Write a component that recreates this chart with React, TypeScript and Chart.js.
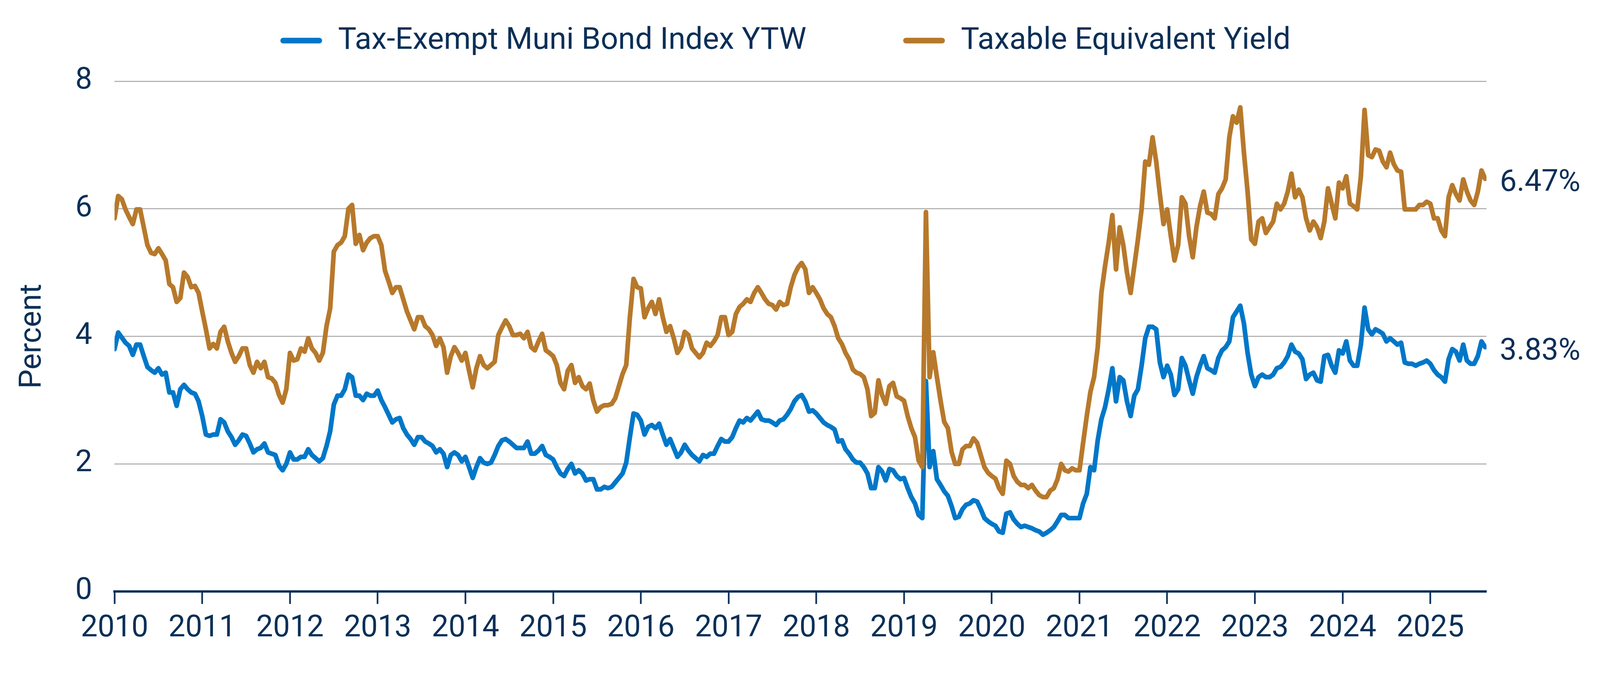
import { useEffect, useRef } from 'react';
import { Chart, registerables } from 'chart.js';

Chart.register(...registerables);

// semi-monthly readings, Jan 2010 .. mid Aug 2025 (one row per year)
const START_YEAR = 2010;
const END_YEAR = 2025.64;
const STEPS_PER_YEAR = 24;

const muniYtw = [
  3.8, 4.06, 3.98, 3.9, 3.85, 3.71, 3.87, 3.87, 3.69, 3.52, 3.47, 3.43, 3.5, 3.4, 3.43, 3.12, 3.12, 2.91, 3.17, 3.24, 3.17, 3.12, 3.1, 2.98,
  2.75, 2.46, 2.44, 2.46, 2.46, 2.7, 2.65, 2.51, 2.42, 2.3, 2.37, 2.46, 2.44, 2.32, 2.18, 2.23, 2.25, 2.32, 2.18, 2.16, 2.14, 1.97, 1.9, 2.0,
  2.18, 2.07, 2.07, 2.11, 2.11, 2.23, 2.14, 2.09, 2.04, 2.09, 2.28, 2.51, 2.93, 3.07, 3.07, 3.17, 3.4, 3.36, 3.07, 3.07, 3.0, 3.1, 3.07, 3.07,
  3.15, 3.0, 2.89, 2.77, 2.65, 2.7, 2.72, 2.56, 2.46, 2.39, 2.3, 2.42, 2.42, 2.35, 2.32, 2.28, 2.18, 2.23, 2.16, 1.95, 2.14, 2.18, 2.14, 2.04,
  2.11, 1.95, 1.78, 1.95, 2.09, 2.02, 2.0, 2.02, 2.14, 2.28, 2.37, 2.39, 2.35, 2.3, 2.25, 2.25, 2.25, 2.35, 2.16, 2.16, 2.21, 2.28, 2.14, 2.11,
  2.07, 1.95, 1.85, 1.81, 1.92, 2.0, 1.85, 1.9, 1.85, 1.74, 1.76, 1.76, 1.6, 1.6, 1.64, 1.62, 1.64, 1.71, 1.78, 1.85, 2.02, 2.42, 2.79, 2.77,
  2.68, 2.46, 2.58, 2.61, 2.56, 2.63, 2.46, 2.3, 2.39, 2.25, 2.11, 2.18, 2.3, 2.21, 2.14, 2.09, 2.04, 2.14, 2.11, 2.16, 2.16, 2.28, 2.39, 2.35,
  2.35, 2.42, 2.56, 2.68, 2.65, 2.72, 2.68, 2.75, 2.82, 2.7, 2.68, 2.68, 2.65, 2.61, 2.68, 2.7, 2.77, 2.86, 2.98, 3.05, 3.08, 2.98, 2.82, 2.84,
  2.79, 2.72, 2.65, 2.61, 2.58, 2.54, 2.35, 2.37, 2.23, 2.16, 2.07, 2.02, 2.02, 1.95, 1.85, 1.62, 1.62, 1.95, 1.88, 1.74, 1.92, 1.9, 1.81, 1.76,
  1.78, 1.62, 1.48, 1.38, 1.2, 1.15, 3.3, 1.95, 2.2, 1.76, 1.67, 1.57, 1.5, 1.34, 1.15, 1.17, 1.29, 1.36, 1.38, 1.43, 1.41, 1.29, 1.15, 1.1,
  1.06, 1.03, 0.94, 0.92, 1.22, 1.24, 1.13, 1.06, 1.01, 1.03, 1.01, 0.99, 0.96, 0.94, 0.89, 0.92, 0.96, 1.01, 1.1, 1.2, 1.2, 1.15, 1.15, 1.15,
  1.15, 1.38, 1.53, 1.95, 1.9, 2.37, 2.7, 2.89, 3.17, 3.5, 2.98, 3.36, 3.31, 2.98, 2.75, 3.07, 3.17, 3.54, 3.97, 4.15, 4.15, 4.11, 3.59, 3.36,
  3.54, 3.4, 3.08, 3.17, 3.66, 3.54, 3.31, 3.1, 3.36, 3.54, 3.69, 3.5, 3.47, 3.43, 3.66, 3.78, 3.83, 3.92, 4.3, 4.39, 4.48, 4.2, 3.74, 3.4,
  3.22, 3.36, 3.4, 3.36, 3.36, 3.4, 3.5, 3.52, 3.59, 3.69, 3.87, 3.76, 3.73, 3.64, 3.33, 3.4, 3.43, 3.31, 3.29, 3.69, 3.71, 3.54, 3.43, 3.78,
  3.73, 3.92, 3.62, 3.54, 3.54, 3.87, 4.45, 4.11, 4.03, 4.11, 4.08, 4.04, 3.92, 3.97, 3.92, 3.87, 3.9, 3.59, 3.57, 3.57, 3.54, 3.57, 3.59, 3.62,
  3.57, 3.47, 3.4, 3.36, 3.29, 3.64, 3.8, 3.76, 3.62, 3.87, 3.62, 3.57, 3.57, 3.69, 3.92, 3.83,
];

const taxableEquivalent = [
  5.85, 6.2, 6.15, 5.99, 5.87, 5.76, 5.99, 5.99, 5.71, 5.43, 5.31, 5.29, 5.38, 5.29, 5.19, 4.82, 4.77, 4.54, 4.6, 5.0, 4.93, 4.77, 4.79, 4.68,
  4.39, 4.11, 3.81, 3.88, 3.81, 4.07, 4.15, 3.92, 3.74, 3.6, 3.69, 3.81, 3.81, 3.55, 3.43, 3.6, 3.5, 3.6, 3.36, 3.34, 3.27, 3.08, 2.96, 3.17,
  3.74, 3.62, 3.64, 3.81, 3.76, 3.97, 3.81, 3.74, 3.62, 3.74, 4.16, 4.44, 5.33, 5.43, 5.47, 5.57, 6.0, 6.06, 5.45, 5.59, 5.35, 5.47, 5.54, 5.57,
  5.57, 5.43, 5.03, 4.86, 4.68, 4.77, 4.77, 4.58, 4.39, 4.25, 4.11, 4.3, 4.3, 4.16, 4.11, 4.02, 3.85, 3.97, 3.83, 3.43, 3.69, 3.83, 3.74, 3.62,
  3.74, 3.46, 3.2, 3.5, 3.69, 3.55, 3.5, 3.55, 3.6, 4.02, 4.14, 4.25, 4.16, 4.02, 4.02, 4.04, 3.97, 4.07, 3.83, 3.78, 3.92, 4.04, 3.78, 3.74,
  3.69, 3.55, 3.27, 3.17, 3.46, 3.55, 3.27, 3.36, 3.22, 3.17, 3.26, 2.99, 2.82, 2.89, 2.92, 2.92, 2.94, 3.03, 3.22, 3.41, 3.55, 4.3, 4.9, 4.77,
  4.75, 4.3, 4.44, 4.54, 4.35, 4.58, 4.3, 4.07, 4.16, 3.97, 3.74, 3.83, 4.07, 4.02, 3.81, 3.74, 3.67, 3.74, 3.9, 3.85, 3.92, 4.02, 4.3, 4.3,
  4.02, 4.07, 4.35, 4.46, 4.51, 4.58, 4.54, 4.68, 4.77, 4.68, 4.58, 4.51, 4.49, 4.42, 4.54, 4.49, 4.51, 4.77, 4.96, 5.08, 5.15, 5.05, 4.68, 4.77,
  4.68, 4.58, 4.44, 4.35, 4.3, 4.16, 3.97, 3.88, 3.74, 3.64, 3.48, 3.43, 3.41, 3.36, 3.17, 2.75, 2.8, 3.31, 3.08, 2.94, 3.22, 3.27, 3.06, 3.03,
  2.99, 2.75, 2.56, 2.42, 2.05, 1.95, 5.95, 3.36, 3.75, 3.36, 2.99, 2.66, 2.56, 2.19, 2.0, 2.0, 2.23, 2.28, 2.28, 2.4, 2.33, 2.14, 1.95, 1.86,
  1.81, 1.77, 1.62, 1.53, 2.05, 2.0, 1.81, 1.72, 1.67, 1.67, 1.62, 1.67, 1.58, 1.51, 1.48, 1.48, 1.58, 1.62, 1.76, 2.0, 1.9, 1.88, 1.93, 1.9,
  1.9, 2.33, 2.75, 3.13, 3.36, 3.83, 4.68, 5.1, 5.47, 5.9, 5.05, 5.71, 5.43, 5.0, 4.68, 5.1, 5.52, 5.99, 6.74, 6.69, 7.12, 6.74, 6.23, 5.76,
  5.99, 5.57, 5.19, 5.43, 6.18, 6.08, 5.57, 5.24, 5.71, 6.04, 6.27, 5.94, 5.92, 5.85, 6.23, 6.32, 6.46, 7.12, 7.45, 7.35, 7.59, 6.88, 6.27, 5.52,
  5.45, 5.8, 5.85, 5.62, 5.71, 5.8, 6.08, 5.99, 6.08, 6.27, 6.55, 6.18, 6.3, 6.18, 5.85, 5.66, 5.8, 5.71, 5.54, 5.8, 6.32, 6.08, 5.85, 6.41,
  6.32, 6.51, 6.08, 6.04, 5.99, 6.51, 7.55, 6.84, 6.81, 6.93, 6.91, 6.74, 6.65, 6.88, 6.7, 6.6, 6.58, 5.99, 5.99, 5.99, 5.99, 6.06, 6.06, 6.11,
  6.08, 5.85, 5.85, 5.66, 5.57, 6.18, 6.37, 6.23, 6.13, 6.46, 6.27, 6.13, 6.06, 6.27, 6.6, 6.47,
];

const yTickValues = [0, 2, 4, 6, 8];
const seriesLabels = ['Tax-Exempt Muni Bond Index YTW', 'Taxable Equivalent Yield'];
const seriesColors = ['#0077c8', '#b7792b'];

const NAVY = '#0b2f57';
const GRID = '#b5b5b5';
const FONT = 'Roboto, "Noto Sans", sans-serif';

// the layout below is measured on a 4792 x 1729 frame and scaled to the viewport
const BASE_W = 4792;
const BASE_H = 1729;

const toPoints = (values: number[]) =>
  values.map((y, i) => ({ x: START_YEAR + i / STEPS_PER_YEAR, y }));

export default function App() {
  const canvasRef = useRef<HTMLCanvasElement>(null);

  useEffect(() => {
    document.body.style.margin = '0';
    document.body.style.overflow = 'hidden';
    if (!canvasRef.current) return;

    const s = window.innerWidth / BASE_W;
    const sy = window.innerHeight / BASE_H;

    // legend across the top, drawn in the top padding
    const topLegend = {
      id: 'topLegend',
      afterDraw(chart: Chart) {
        const { ctx, chartArea } = chart;
        ctx.save();
        ctx.font = `400 ${92 * s}px ${FONT}`;
        const items = chart.data.datasets.map((ds) => ({
          label: ds.label as string,
          color: ds.borderColor as string,
          width: ctx.measureText(ds.label as string).width,
        }));
        const boxW = 125 * s;
        const boxH = 17 * s;
        const textGap = 48 * s;
        const itemGap = 290 * s;
        const total =
          items.reduce((sum, it) => sum + boxW + textGap + it.width, 0) +
          itemGap * (items.length - 1);
        let x = (chartArea.left + chartArea.right) / 2 - 45 * s - total / 2;
        const y = 104 * sy;
        ctx.textBaseline = 'middle';
        ctx.textAlign = 'left';
        items.forEach((it) => {
          ctx.fillStyle = it.color;
          ctx.beginPath();
          ctx.roundRect(x, y - boxH / 2, boxW, boxH, boxH / 2);
          ctx.fill();
          ctx.fillStyle = NAVY;
          ctx.fillText(it.label, x + boxW + textGap, y + 2 * s);
          x += boxW + textGap + it.width + itemGap;
        });
        ctx.restore();
      },
    };

    // last value printed to the right of each line
    const endLabels = {
      id: 'endLabels',
      afterDatasetsDraw(chart: Chart) {
        const { ctx, chartArea, scales } = chart;
        ctx.save();
        ctx.font = `400 ${90 * s}px ${FONT}`;
        ctx.fillStyle = NAVY;
        ctx.textAlign = 'left';
        ctx.textBaseline = 'middle';
        chart.data.datasets.forEach((ds) => {
          const last = ds.data[ds.data.length - 1] as { y: number };
          const y = scales.y.getPixelForValue(last.y);
          ctx.fillText(`${last.y.toFixed(2)}%`, chartArea.right + 40 * s, y + 12 * sy);
        });
        ctx.restore();
      },
    };

    const lineStyle = {
      borderWidth: 14 * s,
      pointRadius: 0,
      tension: 0,
      borderJoinStyle: 'round' as const,
      borderCapStyle: 'round' as const,
    };

    const chart = new Chart(canvasRef.current, {
      type: 'line',
      data: {
        datasets: [
          {
            label: seriesLabels[0],
            data: toPoints(muniYtw),
            borderColor: seriesColors[0],
            backgroundColor: seriesColors[0],
            ...lineStyle,
            order: 1,
          },
          {
            label: seriesLabels[1],
            data: toPoints(taxableEquivalent),
            borderColor: seriesColors[1],
            backgroundColor: seriesColors[1],
            ...lineStyle,
            order: 0,
          },
        ],
      },
      options: {
        animation: false,
        responsive: true,
        maintainAspectRatio: false,
        parsing: false,
        layout: {
          padding: { top: 208 * sy, right: 340 * s, bottom: 0, left: 44 * s },
        },
        plugins: {
          legend: { display: false },
          tooltip: { enabled: false },
        },
        scales: {
          x: {
            type: 'linear',
            min: START_YEAR,
            max: END_YEAR,
            afterFit: (axis) => {
              axis.height = 214 * sy;
            },
            grid: {
              display: true,
              drawOnChartArea: false,
              drawTicks: true,
              tickLength: 32 * sy,
              tickWidth: 5 * s,
              tickColor: NAVY,
            },
            border: { display: true, color: NAVY, width: 7 * s },
            ticks: {
              stepSize: 1,
              includeBounds: false,
              autoSkip: false,
              maxRotation: 0,
              padding: 18 * sy,
              color: NAVY,
              font: { family: FONT, size: 90 * s },
              callback: (v) => String(v),
            },
          },
          y: {
            min: 0,
            max: 8,
            afterFit: (axis) => {
              axis.width = 299 * s;
            },
            grid: { color: GRID, lineWidth: 3.5 * s, drawTicks: false },
            border: { display: false },
            afterBuildTicks: (axis) => {
              axis.ticks = yTickValues.map((value) => ({ value }));
            },
            ticks: {
              padding: 67 * s,
              color: NAVY,
              font: { family: FONT, size: 90 * s },
            },
            title: {
              display: true,
              text: 'Percent',
              color: NAVY,
              font: { family: FONT, size: 92 * s },
              padding: { top: 0, bottom: 0 },
            },
          },
        },
      },
      plugins: [topLegend, endLabels],
    });

    return () => chart.destroy();
  }, []);

  return (
    <div style={{ width: '100vw', height: '100vh', position: 'relative' }}>
      <canvas ref={canvasRef}></canvas>
    </div>
  );
}
